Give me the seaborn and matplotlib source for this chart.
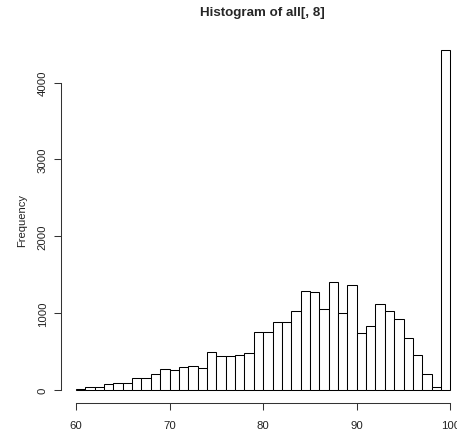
import numpy as np
import pandas as pd
import matplotlib
matplotlib.use("Agg")
import matplotlib.pyplot as plt
import seaborn as sns

# Bin edges (width 1) and counts per bin
bin_edges = list(range(60, 101))
counts = [10, 30, 30, 70, 85, 85, 148, 155, 200, 265,
          252, 290, 310, 287, 492, 440, 440, 452, 478, 747,
          747, 882, 882, 1020, 1286, 1273, 1046, 1403, 1003, 1368,
          743, 830, 1112, 1020, 925, 677, 447, 200, 39, 4426]
x_ticks = [60, 70, 80, 90, 100]
y_ticks = [0, 1000, 2000, 3000, 4000]

mids = [(bin_edges[i] + bin_edges[i + 1]) / 2 for i in range(len(counts))]
df = pd.DataFrame({"value": mids, "n": counts})

sns.set_style("white")
plt.rcParams["font.family"] = ["Liberation Sans", "DejaVu Sans"]

W, H = 457, 435
fig = plt.figure(figsize=(W / 100, H / 100), dpi=100)
ax = fig.add_axes([61 / W, (H - 404.3) / H, 404.3 / W, 366.9 / H])

sns.histplot(data=df, x="value", weights="n", bins=bin_edges,
             color="white", edgecolor="black", linewidth=0.75,
             alpha=1, ax=ax)

ax.set_xlim(58.4, 101.6)
ax.set_ylim(-177, 4603)

for s in ["top", "right"]:
    ax.spines[s].set_visible(False)
for s in ["left", "bottom"]:
    ax.spines[s].set_color("#333333")
    ax.spines[s].set_linewidth(0.75)
ax.spines["left"].set_bounds(0, 4000)
ax.spines["bottom"].set_bounds(60, 100)

ax.set_xticks(x_ticks)
ax.set_yticks(y_ticks)
ax.set_xticklabels([str(t) for t in x_ticks])
ax.set_yticklabels([str(t) for t in y_ticks], rotation=90, va="center")
ax.tick_params(axis="both", direction="out", length=5, width=0.75,
               color="#333333", labelsize=8.2, labelcolor="#222222",
               left=True, bottom=True)
ax.tick_params(axis="x", pad=7)
ax.tick_params(axis="y", pad=4.5)

ax.set_xlabel("")
ax.set_ylabel("Frequency", fontsize=8, color="#222222", labelpad=8)

fig.text(262.5 / W, 1 - 13 / H, "Histogram of all[, 8]", ha="center",
         va="center", fontsize=9.6, fontweight="bold")

fig.savefig("out.png", dpi=100, facecolor="white")
